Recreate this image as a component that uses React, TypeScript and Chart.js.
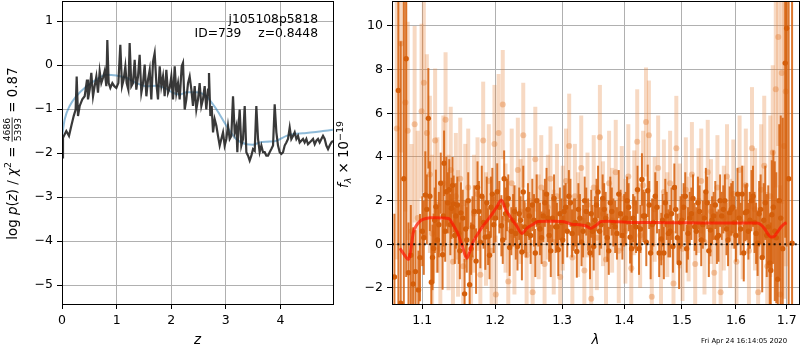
import React, { useEffect, useRef } from 'react';
import { Chart, registerables } from 'chart.js';
Chart.register(...registerables);

const FAM = '"DejaVu Sans", "Liberation Sans", sans-serif';
const TICK_PX = 12.5;

// ---------- header texts ----------
const objName = 'j105108p5818';
const objId = 739;
const zBest = '0.8448';
const chi2Num = '4686';
const chi2Den = '5393';
const chi2Red = '0.87';
const stamp = 'Fri Apr 24 16:14:05 2020';

// ---------- left panel: log p(z) ----------
const zRange = [0, 4.963];
const logpRange = [-5.43, 1.455];
const zTicks = [0, 1, 2, 3, 4];
const logpTicks = [-5, -4, -3, -2, -1, 0, 1];

const zDark = [
  0.000, 0.018, 0.079, 0.128, 0.171, 0.214, 0.250, 0.269, 0.293, 0.324,
  0.372, 0.415, 0.458, 0.476, 0.507, 0.537, 0.568, 0.598, 0.629, 0.659,
  0.690, 0.720, 0.751, 0.781, 0.812, 0.830, 0.855, 0.885, 0.922, 0.958,
  0.995, 1.032, 1.068, 1.099, 1.129, 1.160, 1.184, 1.215, 1.239, 1.270,
  1.300, 1.331, 1.361, 1.392, 1.422, 1.453, 1.484, 1.514, 1.545, 1.575,
  1.606, 1.636, 1.667, 1.697, 1.728, 1.758, 1.789, 1.819, 1.850, 1.880,
  1.911, 1.941, 1.972, 2.002, 2.033, 2.064, 2.094, 2.125, 2.155, 2.192,
  2.216, 2.247, 2.277, 2.308, 2.338, 2.369, 2.399, 2.430, 2.460, 2.491,
  2.521, 2.552, 2.582, 2.613, 2.643, 2.674, 2.692, 2.717, 2.741, 2.766,
  2.796, 2.827, 2.857, 2.888, 2.918, 2.949, 2.979, 3.010, 3.040, 3.071,
  3.101, 3.132, 3.162, 3.193, 3.211, 3.230, 3.254, 3.284, 3.315, 3.346,
  3.376, 3.407, 3.437, 3.468, 3.498, 3.529, 3.559, 3.590, 3.620, 3.651,
  3.681, 3.712, 3.742, 3.773, 3.803, 3.834, 3.865, 3.895, 3.926, 3.956,
  3.987, 4.017, 4.048, 4.078, 4.109, 4.139, 4.170, 4.200, 4.231, 4.261,
  4.292, 4.322, 4.353, 4.383, 4.414, 4.444, 4.475, 4.505, 4.536, 4.567,
  4.597, 4.628, 4.658, 4.689, 4.719, 4.750, 4.780, 4.811, 4.841, 4.872,
  4.902, 4.933, 4.963,
];
const logpDark = [
  -2.10, -1.65, -1.50, -1.61, -1.38, -1.16, -1.01, -0.26, -1.16, -0.93,
  -0.78, -0.71, -0.33, -0.78, -0.56, -0.18, -0.71, -0.48, -0.26, -0.63,
  -0.14, -0.41, -0.29, -0.14, -0.48, 0.57, -0.41, -0.52, -0.41, -0.48,
  -0.52, -0.41, 0.46, -0.48, -0.33, -0.03, -0.41, -0.56, 0.50, -0.48,
  -0.41, 0.12, -0.56, -0.26, 0.23, -0.63, -0.41, 0.01, -0.71, -0.33,
  -0.11, -0.78, 0.08, 0.27, -0.41, -0.78, -0.03, -0.48, -0.26, -0.71,
  -0.11, -0.63, -0.52, -0.26, -0.78, -0.03, -0.63, -0.41, -0.78, -0.03,
  0.05, -1.01, -0.78, -0.41, -0.26, -0.56, -0.93, -0.48, -1.01, -0.78,
  -0.41, -0.93, -0.78, -0.48, -1.01, -0.56, -0.18, -1.16, -0.93, -1.53,
  -1.23, -1.38, -1.61, -1.83, -1.68, -1.53, -1.83, -1.68, -1.38, -1.68,
  -1.61, -0.71, -1.53, -1.38, -1.98, -1.46, -1.01, -1.83, -1.68, -0.93,
  -1.98, -2.06, -2.17, -2.06, -1.91, -1.95, -0.93, -1.68, -1.98, -1.83,
  -1.98, -1.98, -2.06, -2.06, -1.98, -1.91, -1.83, -0.89, -1.53, -1.83,
  -1.98, -2.02, -1.98, -1.83, -1.76, -1.68, -1.42, -1.68, -1.61, -1.53,
  -1.68, -1.61, -1.76, -1.72, -1.68, -1.76, -1.68, -1.80, -1.76, -1.72,
  -1.68, -1.80, -1.72, -1.68, -1.76, -1.68, -1.61, -1.68, -1.83, -1.91,
  -1.83, -1.76, -1.72,
];
const zSmooth = [
  0.00, 0.05, 0.14, 0.26, 0.45, 0.63, 0.81, 1.00, 1.18, 1.36,
  1.54, 1.73, 1.91, 2.03, 2.16, 2.28, 2.46, 2.64, 2.83, 3.01,
  3.19, 3.38, 3.50, 3.62, 3.80, 3.93, 4.11, 4.23, 4.41, 4.60,
  4.78, 4.96,
];
const logpSmooth = [
  -1.62, -1.23, -0.93, -0.71, -0.48, -0.33, -0.22, -0.24, -0.29, -0.41,
  -0.48, -0.47, -0.54, -0.63, -0.67, -0.62, -0.62, -0.71, -1.01, -1.38,
  -1.68, -1.80, -1.81, -1.76, -1.74, -1.72, -1.61, -1.57, -1.55, -1.53,
  -1.50, -1.47,
];

// ---------- right panel: spectrum ----------
const lamRange = [1.0609, 1.7252];
const fluxRange = [-2.735, 11.145];
const lamTicks = [1.1, 1.2, 1.3, 1.4, 1.5, 1.6, 1.7];
const fluxTicks = [-2, 0, 2, 4, 6, 8, 10];

// high-S/N (dark) spectrum, first sampling
const darkLam = [
  1.064, 1.069, 1.072, 1.076, 1.079, 1.082, 1.085, 1.088, 1.091, 1.095,
  1.097, 1.100, 1.104, 1.108, 1.112, 1.115, 1.118, 1.122, 1.127, 1.129,
  1.132, 1.136, 1.139, 1.142, 1.145, 1.149, 1.152, 1.157, 1.160, 1.164,
  1.168, 1.173, 1.177, 1.181, 1.186, 1.190, 1.194, 1.198, 1.203, 1.209,
  1.213, 1.217, 1.221, 1.226, 1.230, 1.235, 1.239, 1.243, 1.248, 1.252,
  1.257, 1.261, 1.266, 1.271, 1.276, 1.280, 1.285, 1.290, 1.294, 1.299,
  1.303, 1.308, 1.313, 1.318, 1.323, 1.328, 1.333, 1.338, 1.344, 1.348,
  1.352, 1.357, 1.362, 1.367, 1.372, 1.377, 1.382, 1.388, 1.394, 1.400,
  1.405, 1.410, 1.415, 1.420, 1.425, 1.430, 1.435, 1.440, 1.445, 1.450,
  1.456, 1.4635, 1.468, 1.473, 1.479, 1.484, 1.489, 1.495, 1.500, 1.506,
  1.511, 1.517, 1.523, 1.529, 1.535, 1.541, 1.546, 1.552, 1.558, 1.564,
  1.570, 1.576, 1.582, 1.588, 1.594, 1.600, 1.606, 1.612, 1.618, 1.624,
  1.630, 1.636, 1.642, 1.648, 1.654, 1.660, 1.666, 1.670, 1.676, 1.682,
  1.688, 1.692, 1.697, 1.700, 1.704, 1.711,
];
const darkFlux = [
  -1.5, 7.05, -2.7, 3.0, 8.5, -1.3, -0.5, -1.82, -1.25, -2.09,
  -0.61, 0.6, 2.26, 5.77, -1.74, -0.19, 1.72, 0.9, -0.48, 3.71,
  2.41, 2.5, 1.65, 1.85, 1.3, 0.5, 1.44, -2.27, 0.2, -1.85,
  0.8, -0.77, 1.5, 2.2, 0.33, 0.35, 1.7, 0.9, 2.41, 0.85,
  3.0, 1.8, -0.15, 1.1, 0.5, 1.4, -0.35, 0.8, 1.6, 0.4,
  1.1, 2.0, 0.7, 1.3, 2.3, 0.4, 1.2, 0.8, -0.25, 1.0,
  1.5, 0.6, 1.9, 0.9, -0.33, 1.2, 0.6, 1.5, -0.4, 0.6,
  1.1, 2.4, 0.9, 1.6, 0.3, 1.9, 1.0, 0.5, 1.4, 1.1,
  2.0, 0.32, 1.2, 0.8, -0.2, 2.97, 1.3, 2.45, -0.4, 1.0,
  1.7, 0.24, -0.4, 1.3, 0.6, -0.1, 1.6, -0.85, 1.1, 2.2,
  0.5, 1.4, 0.8, 1.9, 0.2, 1.2, 1.9, 0.65, 1.3, 0.3,
  2.0, 1.6, 0.7, 1.45, 1.7, 0.4, 1.2, 2.3, 1.45, 0.6,
  2.0, 1.0, 0.05, 1.6, 1.1, 0.4, -0.85, 1.35, 0.6, -1.6,
  1.2, -0.2, 8.3, 9.9, 3.0, 0.05,
];
const darkErr = [
  2.9, 11, 12, 9, 10, 2.3, 2.3, 2.6, 1.9, 1.8,
  2.0, 1.6, 2.0, 2.3, 1.8, 1.6, 1.7, 1.5, 1.6, 1.5,
  1.6, 1.4, 1.4, 1.3, 1.5, 1.4, 1.4, 1.6, 1.5, 1.5,
  1.4, 1.5, 1.4, 1.4, 1.5, 1.3, 1.4, 1.3, 1.3, 1.4,
  1.3, 1.2, 1.3, 1.2, 1.2, 1.2, 1.3, 1.2, 1.2, 1.3,
  1.2, 1.2, 1.2, 1.2, 1.2, 1.2, 1.1, 1.2, 1.2, 1.1,
  1.2, 1.2, 1.1, 1.2, 1.2, 1.1, 1.2, 1.1, 1.2, 1.2,
  1.1, 1.2, 1.1, 1.2, 1.1, 1.2, 1.1, 1.2, 1.1, 1.2,
  1.1, 1.2, 1.1, 1.2, 1.2, 1.2, 1.1, 1.2, 1.2, 1.1,
  1.2, 1.2, 1.2, 1.1, 1.2, 1.2, 1.1, 1.2, 1.2, 1.1,
  1.2, 1.2, 1.1, 1.2, 1.2, 1.1, 1.2, 1.2, 1.1, 1.2,
  1.2, 1.1, 1.2, 1.2, 1.2, 1.2, 1.2, 1.3, 1.3, 1.3,
  1.4, 1.4, 1.5, 1.6, 1.7, 1.9, 2.2, 2.5, 3.2, 3.7,
  4.7, 6, 8, 10, 14, 14,
];

// high-S/N (dark) spectrum, second sampling (interleaved)
const darkLamB = [
  1.102, 1.106, 1.110, 1.1135, 1.1165, 1.120, 1.1245, 1.128, 1.1305, 1.134,
  1.1375, 1.1405, 1.1435, 1.147, 1.1505, 1.1545, 1.1585, 1.162, 1.166, 1.1705,
  1.175, 1.179, 1.1835, 1.188, 1.192, 1.196, 1.2005, 1.206, 1.211, 1.215,
  1.219, 1.2235, 1.228, 1.2325, 1.237, 1.241, 1.2455, 1.250, 1.2545, 1.259,
  1.2635, 1.2685, 1.2735, 1.278, 1.2825, 1.2875, 1.292, 1.2965, 1.301, 1.3055,
  1.3105, 1.3155, 1.3205, 1.3255, 1.3305, 1.3355, 1.341, 1.346, 1.350, 1.3545,
  1.3595, 1.3645, 1.3695, 1.3745, 1.3795, 1.385, 1.391, 1.397, 1.4025, 1.4075,
  1.4125, 1.4175, 1.4225, 1.4275, 1.4325, 1.4375, 1.4425, 1.4475, 1.453, 1.4598,
  1.4658, 1.4705, 1.476, 1.4815, 1.4865, 1.492, 1.4975, 1.503, 1.5085, 1.514,
  1.520, 1.526, 1.532, 1.538, 1.5435, 1.549, 1.555, 1.561, 1.567, 1.573,
  1.579, 1.585, 1.591, 1.597, 1.603, 1.609, 1.615, 1.621, 1.627, 1.633,
  1.639, 1.645, 1.651, 1.657, 1.663, 1.668, 1.673, 1.679, 1.685,
];
const darkFluxB = [
  0.3, 1.6, 2.2, -0.6, 1.1, 0.2, 2.8, 1.3, 0.6, 1.9,
  0.9, 2.7, 0.4, 1.8, -0.3, 1.2, 0.7, 2.0, -0.2, 1.5,
  2.6, 0.1, 1.0, 1.9, -0.5, 2.3, 1.2, 1.7, 0.2, 1.4,
  2.1, 0.6, 1.5, -0.1, 1.1, 2.4, 0.5, 1.3, 1.8, -0.4,
  1.0, 0.3, 1.9, 1.2, -0.3, 2.1, 0.8, 1.4, 0.2, 1.7,
  2.2, 0.5, 1.0, 1.6, 0.1, 2.0, 0.9, 1.4, -0.1, 1.8,
  0.6, 2.1, 1.2, -0.3, 1.5, 0.8, 2.3, 0.4, 1.2, 1.7,
  -0.2, 1.0, 2.5, 0.7, 1.3, 0.1, 1.8, 0.9, 2.2, -0.4,
  1.1, 1.9, 0.5, 1.4, 2.6, 0.3, 1.0, 1.7, -0.2, 1.2,
  2.1, 0.6, 1.5, 0.9, 2.4, -0.3, 1.1, 1.8, 0.4, 1.3,
  2.0, 0.2, 1.6, 1.0, 2.3, 0.7, -0.4, 1.5, 1.1, 2.2,
  0.5, 1.4, -0.6, 1.9, 0.8, -1.2, 1.7, 0.3, 2.0,
];
const darkErrB = [
  1.7, 1.6, 1.6, 1.5, 1.5, 1.5, 1.4, 1.4, 1.4, 1.4,
  1.4, 1.3, 1.3, 1.3, 1.3, 1.3, 1.3, 1.3, 1.2, 1.2,
  1.2, 1.2, 1.2, 1.2, 1.1, 1.2, 1.1, 1.2, 1.1, 1.2,
  1.1, 1.1, 1.2, 1.1, 1.1, 1.2, 1.1, 1.1, 1.2, 1.1,
  1.1, 1.2, 1.1, 1.1, 1.2, 1.1, 1.1, 1.2, 1.1, 1.1,
  1.2, 1.1, 1.1, 1.2, 1.1, 1.1, 1.2, 1.1, 1.1, 1.2,
  1.1, 1.1, 1.2, 1.1, 1.1, 1.2, 1.1, 1.1, 1.2, 1.1,
  1.1, 1.2, 1.1, 1.1, 1.2, 1.1, 1.1, 1.2, 1.1, 1.1,
  1.2, 1.1, 1.1, 1.2, 1.1, 1.1, 1.2, 1.1, 1.1, 1.2,
  1.1, 1.1, 1.2, 1.1, 1.1, 1.2, 1.1, 1.1, 1.2, 1.1,
  1.2, 1.2, 1.2, 1.2, 1.2, 1.2, 1.3, 1.3, 1.3, 1.4,
  1.4, 1.5, 1.6, 1.7, 1.9, 2.2, 2.6, 3.0, 3.5,
];

// low-S/N (light) spectrum
const lightLam = [
  1.067, 1.0725, 1.078, 1.081, 1.086, 1.090, 1.094, 1.099, 1.102, 1.106,
  1.110, 1.113, 1.117, 1.120, 1.124, 1.128, 1.131, 1.135, 1.138, 1.141,
  1.145, 1.148, 1.151, 1.155, 1.158, 1.162, 1.166, 1.170, 1.175, 1.179,
  1.183, 1.187, 1.191, 1.195, 1.199, 1.201, 1.205, 1.211, 1.215, 1.219,
  1.224, 1.228, 1.233, 1.237, 1.241, 1.246, 1.250, 1.255, 1.259, 1.264,
  1.268, 1.273, 1.278, 1.282, 1.287, 1.292, 1.297, 1.301, 1.306, 1.311,
  1.316, 1.320, 1.325, 1.330, 1.335, 1.340, 1.346, 1.350, 1.355, 1.360,
  1.365, 1.370, 1.375, 1.380, 1.386, 1.391, 1.396, 1.402, 1.407, 1.412,
  1.417, 1.422, 1.427, 1.432, 1.437, 1.442, 1.447, 1.452, 1.458, 1.463,
  1.468, 1.474, 1.479, 1.485, 1.490, 1.496, 1.501, 1.507, 1.512, 1.518,
  1.524, 1.530, 1.535, 1.541, 1.547, 1.553, 1.559, 1.565, 1.571, 1.577,
  1.583, 1.589, 1.595, 1.601, 1.607, 1.613, 1.619, 1.625, 1.631, 1.637,
  1.643, 1.649, 1.655, 1.661, 1.667, 1.672, 1.678, 1.683, 1.687, 1.690,
  1.695, 1.698,
];
const lightFlux = [
  5.3, 9.2, 6.5, 5.2, 0.6, 5.5, 1.2, 6.1, 7.4, 5.1,
  3.2, 0.5, 4.75, 1.8, -0.2, 2.8, 5.7, 1.0, 3.4, -0.8,
  2.2, 0.5, 3.0, -1.0, 1.9, 2.6, -0.6, 1.4, 2.3, -1.4,
  4.75, 0.7, 2.9, -0.3, 4.6, -2.3, 5.1, 6.4, 1.2, -1.7,
  2.8, 0.2, 3.4, 1.5, 5.0, -0.5, 2.0, -2.2, 3.9, 0.8,
  2.6, -0.9, 1.7, 3.0, 0.1, 2.2, -1.5, 1.2, 2.9, 4.5,
  -0.6, 2.2, 0.9, 3.5, -1.2, 1.8, -2.5, 2.6, 0.3, 4.9,
  1.4, -0.7, 2.8, 1.1, 3.3, -0.3, 2.1, 0.6, 3.1, -1.1,
  1.9, 4.7, 0.4, 2.7, 5.6, 5.0, -2.4, 1.6, 3.5, -0.6,
  2.4, 0.9, 2.8, -1.8, 4.4, 1.3, -0.2, 2.5, 0.7, 3.2,
  -0.9, 2.0, 2.9, 0.1, 3.3, 1.5, -1.3, 2.6, -2.2, 1.2,
  3.1, 0.5, 2.3, -0.8, 3.4, 1.0, 2.7, -0.3, 4.4, 1.6,
  -2.2, 2.5, 3.6, -1.0, 2.2, 4.2, 7.1, 9.5, -2.3, 7.85,
  4.5, 7.0,
];
const lightErr = [
  6, 5, 5, 5, 4, 4.5, 4, 4, 5, 3.6,
  3.6, 3.6, 3.3, 3.1, 3.1, 3.1, 3.1, 3.1, 2.9, 2.9,
  2.9, 2.9, 2.8, 2.8, 2.7, 2.7, 2.7, 2.7, 2.6, 2.6,
  2.7, 2.6, 2.6, 2.6, 2.7, 2.7, 2.7, 2.5, 2.5, 2.5,
  2.5, 2.5, 2.4, 2.4, 2.4, 2.4, 2.4, 2.4, 2.4, 2.4,
  2.4, 2.4, 2.4, 2.4, 2.4, 2.4, 2.4, 2.4, 2.4, 2.4,
  2.4, 2.4, 2.4, 2.4, 2.4, 2.4, 2.4, 2.4, 2.4, 2.4,
  2.4, 2.4, 2.4, 2.4, 2.4, 2.4, 2.4, 2.4, 2.4, 2.4,
  2.4, 2.4, 2.4, 2.5, 2.5, 2.5, 2.4, 2.4, 2.4, 2.4,
  2.4, 2.4, 2.4, 2.4, 2.4, 2.4, 2.4, 2.4, 2.4, 2.4,
  2.4, 2.4, 2.4, 2.4, 2.4, 2.4, 2.4, 2.4, 2.4, 2.4,
  2.4, 2.5, 2.5, 2.5, 2.5, 2.6, 2.6, 2.7, 2.8, 2.8,
  2.9, 3.0, 3.2, 3.4, 3.7, 4, 4.5, 5, 5, 6,
  7, 8,
];

const modelLam = [
  1.071, 1.077, 1.082, 1.086, 1.088, 1.093, 1.099, 1.105, 1.110, 1.120,
  1.128, 1.135, 1.142, 1.148, 1.154, 1.160, 1.164, 1.168, 1.174, 1.179,
  1.189, 1.197, 1.203, 1.209, 1.215, 1.222, 1.231, 1.239, 1.247, 1.255,
  1.263, 1.275, 1.290, 1.303, 1.315, 1.327, 1.337, 1.345, 1.353, 1.362,
  1.375, 1.390, 1.410, 1.440, 1.470, 1.500, 1.530, 1.560, 1.590, 1.620,
  1.640, 1.648, 1.656, 1.663, 1.668, 1.674, 1.681, 1.689, 1.696, 1.700,
];
const modelFlux = [
  -0.18, -0.5, -0.69, 0.0, 0.5, 0.9, 1.11, 1.18, 1.22, 1.22,
  1.2, 1.18, 0.85, 0.47, -0.1, -0.64, -0.35, 0.04, 0.4, 0.66,
  1.1, 1.45, 1.75, 2.03, 1.6, 1.25, 0.85, 0.5, 0.75, 0.9,
  1.04, 1.06, 1.06, 1.03, 0.92, 0.9, 0.85, 0.73, 0.85, 1.04,
  1.05, 1.03, 1.0, 1.0, 0.99, 0.99, 0.98, 0.98, 0.98, 0.98,
  0.97, 0.9, 0.7, 0.45, 0.33, 0.35, 0.55, 0.8, 0.95, 0.98,
];

// ---------- colours ----------
const DARK_BAR = 'rgba(214,95,10,0.85)';
const DARK_DOT = 'rgb(212,94,10)';
const LIGHT_BAR = 'rgba(230,128,55,0.3)';
const LIGHT_DOT = 'rgba(228,125,50,0.4)';

const minusFmt = (v: number) => (v < 0 ? '\u2212' + String(Math.abs(v)) : String(v));

type Seg = { t?: string; size?: number; italic?: boolean; dy?: number; frac?: [string, string] };
const LABEL_PX = 13.4;
const fontOf = (s: Seg) => `${s.italic ? 'italic ' : ''}${s.size ?? LABEL_PX}px ${FAM}`;

function drawVerticalRich(ctx: CanvasRenderingContext2D, segs: Seg[], cx: number, cy: number) {
  ctx.save();
  ctx.translate(cx, cy);
  ctx.rotate(-Math.PI / 2);
  ctx.fillStyle = '#000';
  ctx.textBaseline = 'alphabetic';
  const widths = segs.map((s) => {
    ctx.font = fontOf(s);
    if (s.frac) return Math.max(ctx.measureText(s.frac[0]).width, ctx.measureText(s.frac[1]).width) + 2;
    return ctx.measureText(s.t || '').width;
  });
  const total = widths.reduce((a, b) => a + b, 0);
  let x = -total / 2;
  const base = 4.7;
  segs.forEach((s, i) => {
    ctx.font = fontOf(s);
    const w = widths[i];
    if (s.frac) {
      const axis = base - 4.6;
      const sz = s.size ?? 9;
      ctx.textAlign = 'center';
      ctx.fillText(s.frac[0], x + w / 2, axis - 1.8);
      ctx.fillText(s.frac[1], x + w / 2, axis + 1.8 + 0.73 * sz);
      ctx.fillRect(x + 0.5, axis - 0.4, w - 1, 0.8);
    } else {
      ctx.textAlign = 'left';
      ctx.fillText(s.t || '', x, base + (s.dy ?? 0));
    }
    x += w;
  });
  ctx.restore();
}

function makeAxis(o: { type: string; range: number[]; ticks: number[]; fmt: (v: number) => string; horizontal: boolean; size: number }) {
  return {
    type: o.type,
    min: o.range[0],
    max: o.range[1],
    grid: { color: '#b0b0b0', lineWidth: 1, drawTicks: true, tickLength: 5, tickColor: '#000', tickWidth: 1 },
    border: { display: false },
    ticks: {
      color: '#000',
      font: { family: FAM, size: TICK_PX },
      padding: 4,
      autoSkip: false,
      maxRotation: 0,
      minRotation: 0,
      callback: (v: any) => o.fmt(Number(v)),
    },
    afterBuildTicks: (s: any) => {
      s.ticks = o.ticks.map((v) => ({ value: v }));
    },
    afterFit: (s: any) => {
      if (o.horizontal) s.height = o.size;
      else s.width = o.size;
      s.paddingLeft = 0;
      s.paddingRight = 0;
      s.paddingTop = 0;
      s.paddingBottom = 0;
    },
  };
}

function drawFrame(chart: any) {
  const { ctx, chartArea: a } = chart;
  ctx.save();
  ctx.strokeStyle = '#000';
  ctx.lineWidth = 1;
  ctx.strokeRect(a.left + 0.5, a.top + 0.5, a.right - a.left, a.bottom - a.top);
  ctx.restore();
}

function drawBars(chart: any, lam: number[], flux: number[], err: number[], col: string, w: number) {
  const { ctx, chartArea: a, scales } = chart;
  ctx.save();
  ctx.beginPath();
  ctx.rect(a.left, a.top, a.right - a.left, a.bottom - a.top);
  ctx.clip();
  ctx.strokeStyle = col;
  ctx.lineWidth = w;
  ctx.lineCap = 'butt';
  for (let i = 0; i < lam.length; i++) {
    const x = scales.x.getPixelForValue(lam[i]);
    const y1 = scales.y.getPixelForValue(flux[i] - err[i]);
    const y2 = scales.y.getPixelForValue(flux[i] + err[i]);
    ctx.beginPath();
    ctx.moveTo(x, y1);
    ctx.lineTo(x, y2);
    ctx.stroke();
  }
  ctx.restore();
}

const leftDeco = {
  id: 'leftDeco',
  afterDatasetsDraw(chart: any) {
    drawFrame(chart);
  },
  afterDraw(chart: any) {
    const { ctx, chartArea: a } = chart;
    ctx.save();
    ctx.fillStyle = '#000';
    ctx.font = `12.3px ${FAM}`;
    ctx.textAlign = 'right';
    ctx.textBaseline = 'middle';
    const rx = a.right - 15;
    ctx.fillText(objName, rx, a.top + 19);
    ctx.fillText('z=' + zBest, rx, a.top + 33.3);
    ctx.fillText('ID=' + objId, rx - 76.6, a.top + 33.3);
    ctx.font = `italic ${LABEL_PX}px ${FAM}`;
    ctx.textAlign = 'center';
    ctx.textBaseline = 'alphabetic';
    ctx.fillText('z', (a.left + a.right) / 2, a.bottom + 40);
    ctx.restore();
    drawVerticalRich(
      ctx,
      [
        { t: 'log' },
        { t: ' ' },
        { t: 'p', italic: true },
        { t: '(' },
        { t: 'z', italic: true },
        { t: ')' },
        { t: ' / ' },
        { t: '\u03c7', italic: true },
        { t: '2', size: 9.5, dy: -5.5 },
        { t: ' = ' },
        { frac: [chi2Num, chi2Den], size: 9.2 },
        { t: ' = ' + chi2Red },
      ],
      12,
      (a.top + a.bottom) / 2 + 1
    );
  },
};

const rightDeco = {
  id: 'rightDeco',
  beforeDatasetDraw(chart: any, args: any) {
    if (args.index === 2) {
      drawBars(chart, darkLam, darkFlux, darkErr, DARK_BAR, 2);
      drawBars(chart, darkLamB, darkFluxB, darkErrB, DARK_BAR, 2);
    } else if (args.index === 4) {
      drawBars(chart, lightLam, lightFlux, lightErr, LIGHT_BAR, 4);
    }
  },
  afterDatasetsDraw(chart: any) {
    drawFrame(chart);
  },
  afterDraw(chart: any) {
    const { ctx, chartArea: a } = chart;
    ctx.save();
    ctx.fillStyle = '#000';
    ctx.font = `italic ${LABEL_PX}px ${FAM}`;
    ctx.textAlign = 'center';
    ctx.textBaseline = 'alphabetic';
    ctx.fillText('\u03bb', (a.left + a.right) / 2, a.bottom + 40);
    ctx.font = `6.9px ${FAM}`;
    ctx.textAlign = 'left';
    ctx.fillText(stamp, a.right - 98, a.bottom + 38.5);
    ctx.restore();
    drawVerticalRich(
      ctx,
      [
        { t: 'f', italic: true },
        { t: '\u03bb', italic: true, size: 9.5, dy: 3 },
        { t: ' \u00d7 10' },
        { t: '\u221219', size: 9.5, dy: -5.5 },
      ],
      a.left - 48.7,
      (a.top + a.bottom) / 2 + 2
    );
  },
};

function leftConfig(): any {
  return {
    type: 'line',
    data: {
      datasets: [
        {
          data: zDark.map((z, i) => ({ x: z, y: logpDark[i] })),
          borderColor: 'rgba(35,35,35,0.9)',
          borderWidth: 2.2,
          pointRadius: 0,
          tension: 0,
          clip: 0,
          order: 0,
        },
        {
          data: zSmooth.map((z, i) => ({ x: z, y: logpSmooth[i] })),
          borderColor: 'rgba(31,119,180,0.5)',
          borderWidth: 2,
          pointRadius: 0,
          cubicInterpolationMode: 'monotone',
          clip: 0,
          order: 1,
        },
      ],
    },
    options: {
      responsive: false,
      maintainAspectRatio: false,
      devicePixelRatio: 1,
      animation: false,
      events: [],
      layout: { padding: { left: 0, right: 7, top: 1, bottom: 1 }, autoPadding: false },
      plugins: { legend: { display: false }, tooltip: { enabled: false }, title: { display: false } },
      scales: {
        x: makeAxis({ type: 'linear', range: zRange, ticks: zTicks, fmt: minusFmt, horizontal: true, size: 45 }),
        y: makeAxis({ type: 'linear', range: logpRange, ticks: logpTicks, fmt: minusFmt, horizontal: false, size: 62 }),
      },
    },
    plugins: [leftDeco],
  };
}

function rightConfig(): any {
  return {
    type: 'scatter',
    data: {
      datasets: [
        {
          type: 'line',
          data: [
            { x: lamRange[0], y: 0 },
            { x: lamRange[1], y: 0 },
          ],
          borderColor: 'rgba(0,0,0,0.85)',
          borderWidth: 2,
          borderDash: [2, 3.3],
          pointRadius: 0,
          clip: 0,
          order: 0,
        },
        {
          type: 'line',
          data: modelLam.map((l, i) => ({ x: l, y: modelFlux[i] })),
          borderColor: 'rgba(255,20,0,0.7)',
          borderWidth: 3,
          pointRadius: 0,
          cubicInterpolationMode: 'monotone',
          clip: 0,
          order: 1,
        },
        {
          data: darkLam.map((l, i) => ({ x: l, y: darkFlux[i] })),
          pointRadius: 2.7,
          pointBackgroundColor: DARK_DOT,
          pointBorderWidth: 0,
          clip: 0,
          order: 3,
        },
        {
          data: darkLamB.map((l, i) => ({ x: l, y: darkFluxB[i] })),
          pointRadius: 2.7,
          pointBackgroundColor: DARK_DOT,
          pointBorderWidth: 0,
          clip: 0,
          order: 2,
        },
        {
          data: lightLam.map((l, i) => ({ x: l, y: lightFlux[i] })),
          pointRadius: 3,
          pointBackgroundColor: LIGHT_DOT,
          pointBorderWidth: 0,
          clip: 0,
          order: 4,
        },
      ],
    },
    options: {
      responsive: false,
      maintainAspectRatio: false,
      devicePixelRatio: 1,
      animation: false,
      events: [],
      layout: { padding: { left: 0, right: 1, top: 1, bottom: 1 }, autoPadding: false },
      plugins: { legend: { display: false }, tooltip: { enabled: false }, title: { display: false } },
      scales: {
        x: makeAxis({ type: 'logarithmic', range: lamRange, ticks: lamTicks, fmt: (v) => v.toFixed(1), horizontal: true, size: 45 }),
        y: makeAxis({ type: 'linear', range: fluxRange, ticks: fluxTicks, fmt: minusFmt, horizontal: false, size: 72 }),
      },
    },
    plugins: [rightDeco],
  };
}

export default function App() {
  const leftRef = useRef<HTMLCanvasElement>(null);
  const rightRef = useRef<HTMLCanvasElement>(null);
  useEffect(() => {
    const c1 = new Chart(leftRef.current as HTMLCanvasElement, leftConfig());
    const c2 = new Chart(rightRef.current as HTMLCanvasElement, rightConfig());
    return () => {
      c1.destroy();
      c2.destroy();
    };
  }, []);
  return (
    <div style={{ position: 'absolute', left: 0, top: 0, width: 800, height: 350, background: '#fff', overflow: 'hidden' }}>
      <canvas ref={leftRef} width={340} height={350} style={{ position: 'absolute', left: 0, top: 0, width: 340, height: 350 }} />
      <canvas ref={rightRef} width={480} height={350} style={{ position: 'absolute', left: 320, top: 0, width: 480, height: 350 }} />
    </div>
  );
}
